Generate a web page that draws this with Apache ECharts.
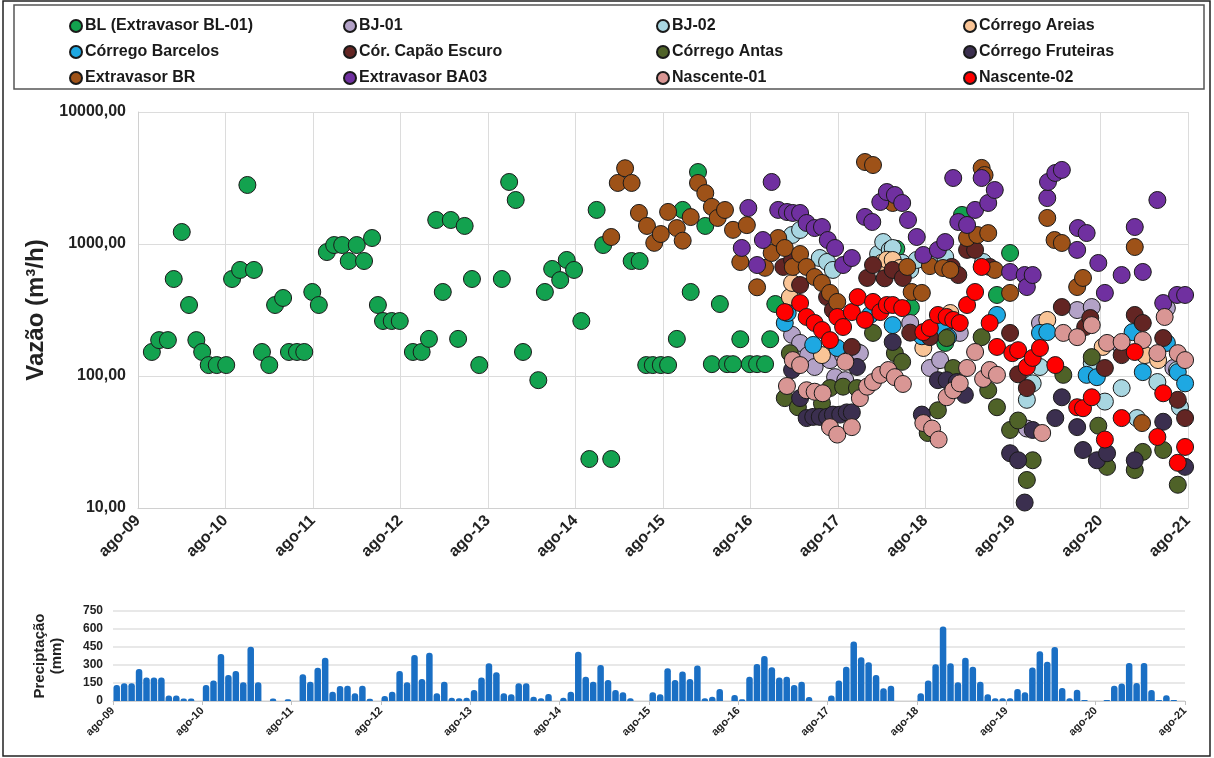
<!DOCTYPE html>
<html>
<head>
<meta charset="utf-8">
<script src="https://cdn.jsdelivr.net/npm/echarts@6/dist/echarts.min.js"></script>
<style>
html,body{margin:0;padding:0;background:#fff;}
#chart{width:1214px;height:758px;}
</style>
</head>
<body>
<div id="chart"></div>
<script>
// x values are months counted from ago-09 (0) to ago-21 (144)
const xTickLabels = ['ago-09','ago-10','ago-11','ago-12','ago-13','ago-14','ago-15','ago-16','ago-17','ago-18','ago-19','ago-20','ago-21'];
const yTickLabels = ['10,00','100,00','1000,00','10000,00'];

const seriesNames = ['BL (Extravasor BL-01)','BJ-01','BJ-02','Córrego Areias','Córrego Barcelos','Cór. Capão Escuro','Córrego Antas','Córrego Fruteiras','Extravasor BR','Extravasor BA03','Nascente-01','Nascente-02'];

const blData = [[1.9,152],[2.9,187],[4.1,187],[4.9,543],[6.0,1233],[7.0,345],[8.0,187],[8.8,152],[9.7,121],[10.8,121],[12.1,121],[12.9,543],[14.0,636],[15.0,2800],[15.9,636],[17.0,152],[18.0,121],[18.8,345],[19.9,390],[20.7,152],[21.8,152],[22.8,152],[23.9,433],[24.8,345],[25.9,869],[26.9,982],[28.0,982],[28.9,743],[30.0,982],[31.0,743],[32.1,1110],[32.9,345],[33.6,261],[34.8,261],[35.9,261],[37.7,152],[38.9,152],[39.9,191],[40.9,1520],[41.8,433],[42.9,1520],[43.9,191],[44.8,1370],[45.8,543],[46.8,121],[49.9,543],[50.9,2950],[51.8,2154],[52.8,152],[54.9,93],[55.8,433],[56.8,647],[57.9,533],[58.8,757],[59.8,636],[60.8,261],[61.9,23.5],[62.9,1812],[63.8,982],[64.9,23.5],[67.7,743],[68.8,743],[69.7,121],[70.6,121],[71.7,121],[72.7,121],[73.9,191],[74.7,1812],[75.8,433],[76.8,3510],[77.8,1370],[78.7,123],[79.8,351],[80.8,123],[81.6,123],[82.6,190],[83.9,123],[84.9,123],[86.0,123],[86.7,190],[87.4,351],[104.0,920],[106.0,330],[110.7,178],[113.0,1660],[117.8,411],[119.6,855]];
const bj01Data = [[89.7,205],[90.8,178],[91.9,144],[92.8,117],[94.9,132],[95.6,98],[96.7,144],[97.0,93],[97.9,128],[98.6,152],[99.0,149],[105.9,252],[108.6,115],[110.0,132],[112.7,212],[121.9,40],[123.7,252],[128.8,316],[130.8,333],[134.9,166],[141.1,327],[142.0,115]];
const bj02Data = [[89.7,1170],[90.8,1277],[93.5,783],[94.5,731],[95.3,636],[101.5,841],[102.2,1035],[103.1,902],[103.5,933],[104.1,658],[104.8,720],[105.9,636],[106.8,757],[109.0,798],[110.7,798],[115.9,731],[121.9,66],[122.7,88],[123.7,117],[130.8,125],[132.6,64],[134.9,81],[137.0,48],[139.8,90],[142.5,111],[142.9,58]];
const areiasData = [[89.4,396],[89.7,507],[93.8,144],[102.0,720],[102.7,760],[103.5,757],[104.5,658],[107.7,163],[111.4,300],[124.7,266],[132.3,166],[138.1,144],[139.9,132]];
const barcelosData = [[88.7,252],[89.1,300],[92.6,172],[95.9,163],[100.4,290],[103.5,243],[107.5,200],[110.4,225],[111.1,197],[117.8,290],[123.7,212],[124.7,215],[130.1,102],[131.5,98],[136.4,215],[137.8,107],[141.1,178],[142.6,107],[143.6,88]];
const capaoData = [[88.5,670],[89.7,757],[90.8,489],[94.5,396],[95.3,316],[97.9,166],[100.0,553],[100.8,693],[102.4,550],[103.5,636],[104.9,553],[105.9,213],[108.6,197],[111.6,670],[112.5,582],[113.7,902],[114.8,902],[116.8,670],[119.6,212],[120.7,103],[121.9,81],[126.7,333],[129.9,235],[130.6,275],[132.6,115],[134.9,144],[136.7,290],[137.8,252],[140.6,194],[142.6,66],[143.6,48]];
const antasData = [[88.7,68],[89.4,149],[90.5,58],[93.8,62],[94.9,81],[96.7,83],[98.6,81],[100.8,212],[103.8,149],[104.8,128],[108.3,37],[109.7,55],[110.9,194],[111.8,115],[115.7,197],[116.6,78],[117.8,58],[119.6,39],[120.7,46],[121.9,16.3],[122.7,23],[126.9,102],[130.8,139],[131.7,42],[132.9,20.5],[136.7,19.4],[137.8,26.6],[140.6,27.5],[142.6,15]];
const fruteirasData = [[89.7,111],[90.8,68],[91.7,48],[92.6,49],[93.5,49],[94.5,49],[95.3,51],[96.3,51],[97.2,53],[97.9,53],[98.6,117],[103.5,181],[107.5,51],[109.7,93],[110.9,93],[112.3,90],[113.4,72],[119.6,26],[120.7,23],[121.6,11],[122.7,39],[125.8,48],[126.7,69],[128.8,41],[129.6,27.5],[131.5,23],[132.9,26],[136.7,23],[140.6,45],[143.6,20.5]];
const brData = [[64.9,1130],[65.8,2900],[66.8,3750],[67.7,2900],[68.7,1720],[69.8,1370],[70.8,1020],[71.7,1190],[72.7,1750],[73.9,1320],[74.7,1060],[75.8,1600],[76.8,2900],[77.8,2430],[78.7,1910],[79.5,1575],[80.5,1810],[81.6,1280],[82.6,730],[83.5,1390],[84.9,470],[86.0,660],[86.9,855],[87.8,1110],[88.7,933],[89.8,670],[90.8,840],[91.7,670],[92.8,562],[93.8,507],[94.9,426],[95.9,364],[99.7,4180],[100.8,3965],[103.5,2045],[105.5,670],[106.1,433],[107.5,426],[108.6,680],[110.4,658],[111.4,636],[113.7,1110],[115.1,1170],[115.7,3770],[116.1,3330],[116.6,1210],[117.5,636],[119.6,426],[124.7,1575],[125.7,1072],[126.7,1018],[128.8,472],[129.6,553],[136.7,949],[137.7,44]];
const ba03Data = [[82.8,933],[83.7,1874],[84.9,693],[85.7,1072],[86.9,2950],[87.8,1812],[89.0,1748],[89.8,1718],[90.8,1718],[91.7,1443],[92.8,1321],[93.8,1345],[94.6,1072],[95.6,933],[96.7,693],[97.9,783],[99.7,1603],[100.7,1468],[101.8,2081],[102.7,2476],[103.8,2350],[104.8,2045],[105.6,1520],[106.8,1130],[107.7,826],[109.7,902],[110.7,1035],[111.8,3162],[112.5,1468],[113.7,1394],[114.8,1812],[115.7,3162],[116.6,2045],[117.5,2565],[119.6,614],[121.6,582],[121.9,472],[122.7,582],[124.7,2228],[124.8,2950],[125.8,3452],[126.7,3640],[128.8,902],[128.9,1321],[130.1,1211],[131.7,718],[132.6,426],[134.9,582],[136.7,1345],[137.8,614],[139.8,2154],[140.6,357],[142.5,411],[143.6,411]];
const nasc01Data = [[89.0,84],[89.8,132],[90.8,121],[91.7,78],[92.8,76],[93.9,74],[94.9,41],[95.9,36],[97.0,128],[97.9,41],[99.0,68],[100.0,83],[100.8,90],[101.8,102],[102.9,111],[103.8,98],[104.9,87],[107.7,44],[108.9,40],[109.8,33],[110.9,69],[111.8,78],[112.7,88],[113.7,115],[114.8,152],[115.9,95],[116.8,111],[117.8,102],[124.0,37],[126.9,212],[128.8,197],[130.8,243],[132.9,178],[134.9,181],[137.8,187],[139.8,149],[140.8,280],[142.6,149],[143.6,132]];
const nasc02Data = [[88.7,305],[90.8,357],[91.7,280],[92.8,252],[93.8,223],[94.9,187],[95.9,280],[96.7,235],[97.9,305],[98.7,396],[99.7,266],[100.8,364],[101.8,305],[102.7,345],[103.5,345],[104.8,327],[107.7,215],[108.6,231],[109.7,290],[110.9,280],[111.8,266],[112.7,252],[113.7,345],[114.8,433],[115.7,670],[116.8,252],[117.8,166],[119.9,149],[120.7,157],[121.9,117],[122.7,137],[123.7,163],[125.8,121],[128.8,58],[129.6,57],[130.8,69],[132.6,33],[134.9,48],[136.7,152],[139.8,34.5],[140.6,74],[142.6,22],[143.6,29]];

// monthly precipitation (mm), ago-09 .. jul-21
const precipitation = [
 133,147,147,267,195,195,195,45,45,20,20,0,
 133,170,392,217,250,156,453,156,0,20,0,15,
 0,222,161,278,361,78,125,128,64,128,18,0,
 42,78,250,156,383,183,403,64,161,28,22,28,
 92,195,314,239,64,56,147,147,36,22,58,0,
 28,78,411,203,161,300,175,92,72,22,0,0,
 72,56,272,175,245,183,295,22,36,100,0,50,
 15,203,309,375,281,195,203,133,161,33,0,0,
 45,170,286,495,364,322,217,106,128,0,0,0,
 64,170,306,620,314,156,361,286,161,56,22,22,
 22,100,72,280,414,328,451,108,23,94,9,0,
 0,9,128,145,317,151,317,91,9,48,9,0];
const precipTicks = [0,150,300,450,600,750];

const allData = [blData,bj01Data,bj02Data,areiasData,barcelosData,capaoData,antasData,fruteirasData,brData,ba03Data,nasc01Data,nasc02Data];
const colors = ['#13a24f','#b3a2c7','#a8d6e1','#f9c496','#1ea8e2','#632523','#4f6228','#3b2f4f','#9e5218','#7030a0','#d99694','#ff0000'];

const FONT = 'Liberation Sans, Arial, sans-serif';
const chart = echarts.init(document.getElementById('chart'), null, {renderer:'canvas'});

const scatterSeries = allData.map((d,i)=>({
  name: seriesNames[i], type:'scatter', xAxisIndex:0, yAxisIndex:0,
  data: d, symbol:'circle', symbolSize:17,
  itemStyle:{color:colors[i], borderColor:'#1a1a1a', borderWidth:1, opacity:1},
  emphasis:{disabled:true}, z: 2
}));

const barSeries = {
  type:'bar', xAxisIndex:1, yAxisIndex:1,
  data: precipitation.map((v,i)=>[i+0.5, v]),
  barWidth:6.5, itemStyle:{color:'#1a6fc4', borderRadius:[3,3,0,0]}, emphasis:{disabled:true}
};

const legendCols = [[0,4,8],[1,5,9],[2,6,10],[3,7,11]];
const legendLefts = [64,338,651,958];
const legends = legendCols.map((col,ci)=>({
  data: col.map(i=>({name:seriesNames[i], icon:'circle'})),
  orient:'vertical', left:legendLefts[ci], top:11, itemGap:6,
  itemWidth:12, itemHeight:12, selectedMode:false,
  textStyle:{fontFamily:FONT, fontWeight:'bold', fontSize:16, color:'#1a1a1a', lineHeight:20, padding:[0,0,0,-2]}
}));

const yearLabel = v => xTickLabels[Math.round(v/12)] || '';
const logLabel = v => yTickLabels[Math.round(Math.log10(v))-1] || '';

chart.setOption({
  animation:false,
  backgroundColor:'#fff',
  color: colors,
  legend: legends,
  graphic:[
    {type:'rect', shape:{x:3,y:1,width:1207,height:755}, style:{fill:null, stroke:'#222', lineWidth:1.5}, z:100},
    {type:'rect', shape:{x:14,y:5,width:1190,height:84}, style:{fill:null, stroke:'#555', lineWidth:1.5}, z:100}
  ],
  grid:[
    {left:138, right:26, top:112, height:396},
    {left:113, right:29, top:611, height:90}
  ],
  xAxis:[
    {gridIndex:0, type:'value', min:0, max:144, interval:12,
     axisLine:{show:true, lineStyle:{color:'#d0d0d0'}}, axisTick:{show:false},
     splitLine:{show:true, lineStyle:{color:'#dcdcdc', width:1}},
     axisLabel:{formatter:yearLabel, rotate:45, margin:10, fontFamily:FONT, fontWeight:'bold', fontSize:16, color:'#222'}},
    {gridIndex:1, type:'value', min:0, max:144, interval:12,
     axisLine:{show:true, lineStyle:{color:'#d0d0d0'}}, axisTick:{show:true, length:4, lineStyle:{color:'#c0c0c0'}},
     splitLine:{show:false},
     axisLabel:{formatter:yearLabel, rotate:45, margin:8, fontFamily:FONT, fontWeight:'bold', fontSize:11, color:'#222'}}
  ],
  yAxis:[
    {gridIndex:0, type:'log', logBase:10, min:10, max:10000,
     axisLine:{show:true, lineStyle:{color:'#d0d0d0'}}, axisTick:{show:false},
     splitLine:{show:true, lineStyle:{color:'#dcdcdc', width:1}},
     axisLabel:{formatter:logLabel, margin:12, fontFamily:FONT, fontWeight:'bold', fontSize:16, color:'#222'},
     name:'Vazão (m³/h)', nameLocation:'middle', nameGap:86, nameRotate:90,
     nameTextStyle:{fontFamily:FONT, fontWeight:'bold', fontSize:24, color:'#222'}},
    {gridIndex:1, type:'value', min:0, max:750, interval:150,
     axisLine:{show:false}, axisTick:{show:false},
     splitLine:{show:true, lineStyle:{color:'#e0e0e0', width:1.5}},
     axisLabel:{formatter:v=>precipTicks.indexOf(v)>=0?String(v):'', margin:10, fontFamily:FONT, fontWeight:'bold', fontSize:12, color:'#222'},
     name:'Preciptação\n(mm)', nameLocation:'middle', nameGap:48, nameRotate:90,
     nameTextStyle:{fontFamily:FONT, fontWeight:'bold', fontSize:15, color:'#222', lineHeight:17}}
  ],
  series: scatterSeries.concat([barSeries])
});
</script>
</body>
</html>
